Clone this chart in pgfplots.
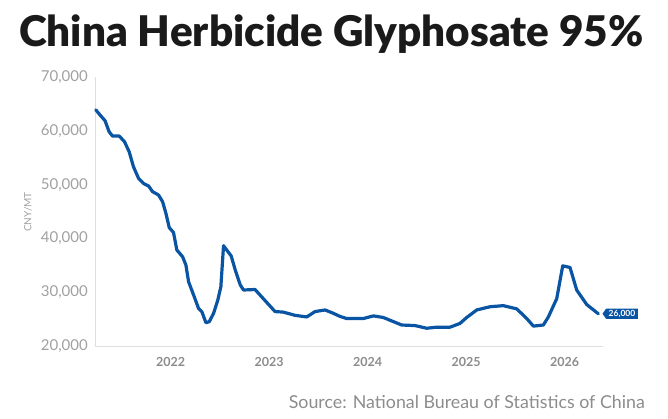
\documentclass[border=0pt]{standalone}
\usepackage{fontspec}
\setmainfont{Lato}
\newfontfamily\titlefont{Lato Black}
\usepackage{pgfplots}
\pgfplotsset{compat=1.18}
\usetikzlibrary{shapes.symbols}
\definecolor{lineblue}{RGB}{10,84,164}
\definecolor{titlec}{RGB}{26,26,26}
\definecolor{ytickc}{RGB}{160,160,160}
\definecolor{xtickc}{RGB}{140,140,140}
\definecolor{axisc}{RGB}{222,222,222}
\begin{document}
\begin{tikzpicture}
\useasboundingbox (0pt,0pt) rectangle (668pt,418pt);
\begin{axis}[
  at={(95pt,72pt)}, anchor=south west,
  scale only axis, width=508pt, height=269pt,
  xmin=2021.233, xmax=2026.391, ymin=20000, ymax=70000,
  scaled y ticks=false, scaled x ticks=false,
  axis x line*=bottom, axis y line*=left,
  axis line style={draw=axisc, line width=1pt},
  major tick length=0pt,
  xtick={2022,2023,2024,2025,2026},
  xticklabels={2022,2023,2024,2025,2026},
  ytick={20000,30000,40000,50000,60000,70000},
  yticklabels={{20,000},{30,000},{40,000},{50,000},{60,000},{70,000}},
  xticklabel style={anchor=center, inner sep=0pt, yshift=-16pt, font=\fontsize{12.5}{14}\selectfont\bfseries, text=xtickc},
  yticklabel style={anchor=east, inner sep=0pt, xshift=-7pt, font=\fontsize{15}{17}\selectfont, text=ytickc},
  clip=false,
]
\addplot[lineblue, line width=3.2pt, line join=round, line cap=round] table {
x y
2021.241 63900
2021.284 62940
2021.335 61880
2021.376 59840
2021.410 59030
2021.478 59030
2021.532 58000
2021.580 56100
2021.624 53300
2021.675 51170
2021.726 50200
2021.777 49740
2021.817 48700
2021.878 48070
2021.919 46830
2021.953 44660
2021.987 42000
2022.030 41100
2022.064 37840
2022.122 36600
2022.156 35050
2022.183 31950
2022.234 29480
2022.284 27000
2022.318 26380
2022.359 24330
2022.393 24520
2022.437 26080
2022.480 28550
2022.511 31030
2022.538 38640
2022.616 36730
2022.657 34130
2022.708 31340
2022.741 30410
2022.858 30500
2022.942 28800
2023.061 26400
2023.145 26300
2023.264 25700
2023.383 25400
2023.467 26400
2023.569 26700
2023.650 26100
2023.721 25500
2023.789 25100
2023.957 25100
2024.059 25600
2024.160 25300
2024.347 23900
2024.482 23800
2024.601 23300
2024.703 23500
2024.838 23500
2024.939 24200
2025.007 25300
2025.109 26700
2025.244 27300
2025.379 27500
2025.515 26900
2025.617 25100
2025.684 23700
2025.785 23900
2025.836 25400
2025.921 28800
2025.982 34900
2026.056 34600
2026.124 30400
2026.226 27700
2026.343 26000
};
\node[signal, signal to=west, signal pointer angle=110, fill=lineblue, text=white,
      font=\fontsize{8.5}{10}\selectfont\bfseries, inner xsep=2.5pt, inner ysep=1.5pt,
      anchor=west] at ([xshift=4pt]axis cs:2026.343,26000) {26,000};
\end{axis}
\node[rotate=90, text=ytickc, font=\fontsize{10}{12}\selectfont, inner sep=0pt] at (28pt,206pt) {CNY/MT};
\node[anchor=base west, inner sep=0pt, text=titlec] at (19pt,371pt) {\resizebox{624pt}{!}{\titlefont China Herbicide Glyphosate 95\%}};
\node[anchor=base east, inner sep=0pt, text=xtickc] at (645pt,10pt) {\resizebox{356pt}{!}{\fontsize{16}{18}\selectfont Source: National Bureau of Statistics of China}};
\end{tikzpicture}
\end{document}
